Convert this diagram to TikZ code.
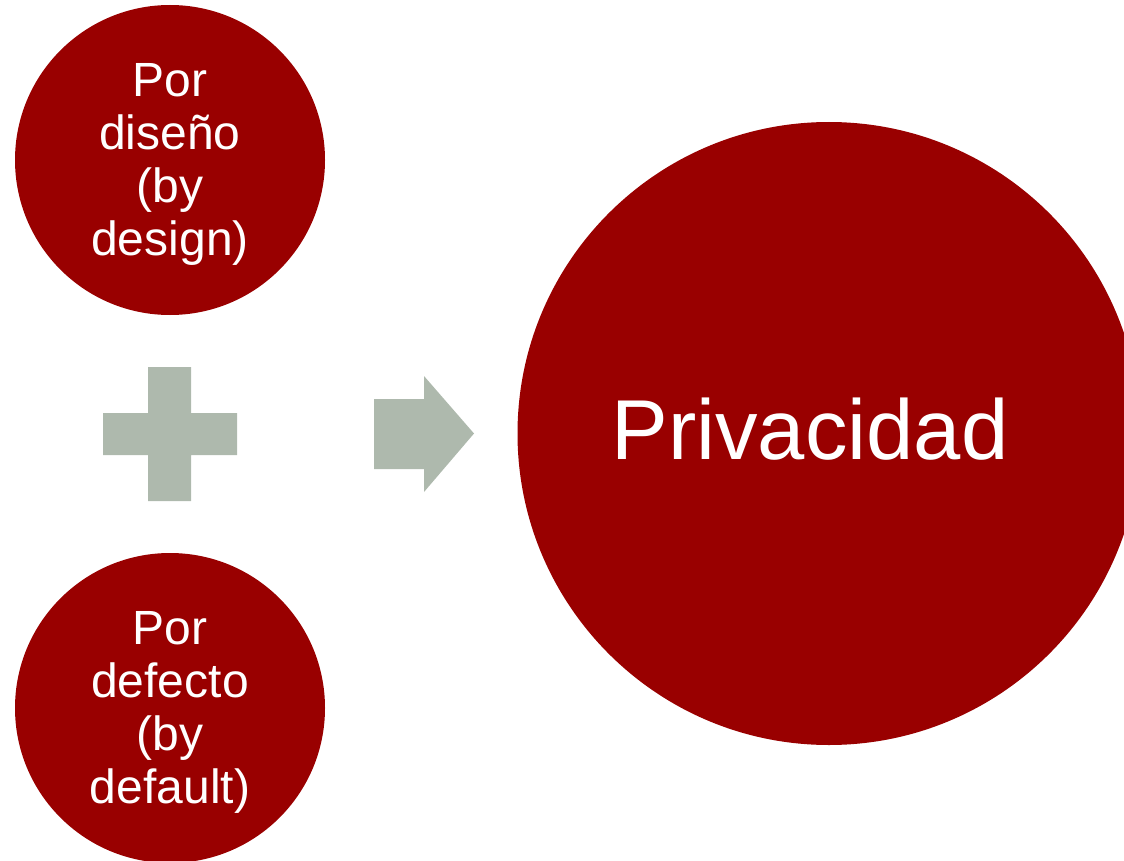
\documentclass[tikz,border=0pt]{standalone}
\usepackage{fontspec}
\setmainfont{Liberation Sans}
\definecolor{darkred}{HTML}{990000}
\definecolor{sage}{HTML}{AEB9AD}
\begin{document}
\begin{tikzpicture}[x=1pt,y=-1pt,inner sep=0pt,
	bubble/.style={circle,fill=darkred,minimum size=310pt},
	bubbletext/.style={text=white,align=center,font=\fontsize{48}{53}\selectfont},
	bigbubble/.style={circle,fill=darkred,minimum size=623pt},
	sign/.style={fill=sage}]
	\useasboundingbox (0,0) rectangle (1124,861);
	\clip (0,0) rectangle (1124,861);
	\path node (design) at (170,160) [bubble] {}
	node (default) at (170,708) [bubble] {}
	node (priv) at (829,433.5) [bigbubble] {};
	\node (designtext) at ([yshift=-4pt]design.center) [bubbletext] {Por\\dise\~no\\(by\\design)};
	\node (defaulttext) at ([yshift=-4pt]default.center) [bubbletext] {Por\\defecto\\(by\\default)};
	\node (privtext) at ([xshift=-19pt,yshift=4pt]priv.center)
		[text=white,font=\fontsize{85}{90}\selectfont] {Privacidad};
	% plus sign
	\fill[sign] (148,367) -- (191,367) -- (191,413) -- (237,413) -- (237,455)
		-- (191,455) -- (191,501) -- (148,501) -- (148,455) -- (103,455)
		-- (103,413) -- (148,413) -- cycle;
	% arrow
	\fill[sign] (374,399) -- (424,399) -- (424,376) -- (474,433.5) -- (424,492)
		-- (424,469) -- (374,469) -- cycle;
\end{tikzpicture}
\end{document}
